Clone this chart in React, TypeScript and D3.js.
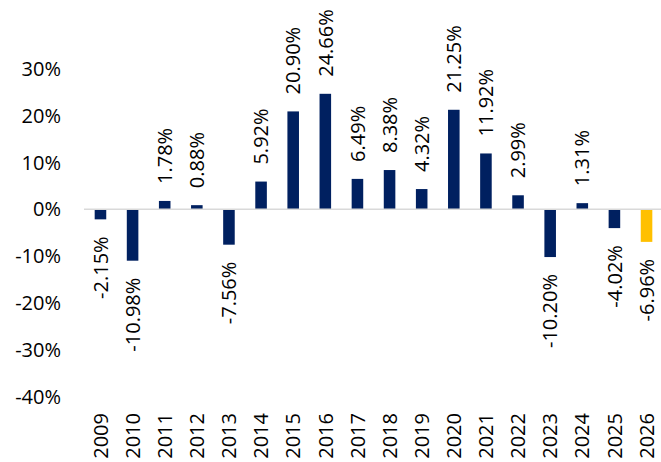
import React from "react";
import * as d3 from "d3";

const years = ["2009","2010","2011","2012","2013","2014","2015","2016","2017","2018","2019","2020","2021","2022","2023","2024","2025","2026"];
const values = [-2.15,-10.98,1.78,0.88,-7.56,5.92,20.90,24.66,6.49,8.38,4.32,21.25,11.92,2.99,-10.20,1.31,-4.02,-6.96];
const highlightYear = "2026";
const yTicks = [-40,-30,-20,-10,0,10,20,30];

const W = 661, H = 462;
const FONT = "'Open Sans', sans-serif";

export default function App() {
  const x = d3.scaleBand<string>().domain(years).range([84.4, 662.6]).paddingInner(0.64).paddingOuter(0.32);
  const y = d3.scaleLinear().domain([-40, 30]).range([396.6, 68.8]);
  const bw = x.bandwidth();
  const fmt = (v: number) => v.toFixed(2) + "%";
  return (
    <svg width={W} height={H} style={{ position: "absolute", left: 0, top: 0, background: "#fff" }} fontFamily={FONT}>
      {yTicks.map(t => (
        <text key={t} x={61} y={y(t)} dy="0.36em" textAnchor="end" fontSize={20} fill="#000">{t + "%"}</text>
      ))}
      {years.map((yr, i) => {
        const v = values[i];
        const x0 = x(yr)!;
        const top = y(Math.max(0, v));
        const h = Math.abs(y(v) - y(0));
        return (
          <rect key={yr} x={x0} y={top} width={bw} height={h} fill={yr === highlightYear ? "#FFC000" : "#002060"} />
        );
      })}
      <line x1={84} x2={W} y1={y(0)} y2={y(0)} stroke="#d9d9d9" strokeWidth={1.5} />
      {years.map((yr, i) => {
        const v = values[i];
        const cx = x(yr)! + bw / 2;
        const pos = v >= 0;
        const ty = pos ? y(v) - 17 : y(v) + 17;
        return (
          <text key={"l" + yr} transform={`translate(${cx},${ty}) rotate(-90)`} dy="0.36em"
            textAnchor={pos ? "start" : "end"} fontSize={20} fill="#000">{fmt(v)}</text>
        );
      })}
      {years.map(yr => {
        const cx = x(yr)! + bw / 2;
        return (
          <text key={"x" + yr} transform={`translate(${cx},413) rotate(-90)`} dy="0.36em"
            textAnchor="end" fontSize={20} fill="#000">{yr}</text>
        );
      })}
    </svg>
  );
}
